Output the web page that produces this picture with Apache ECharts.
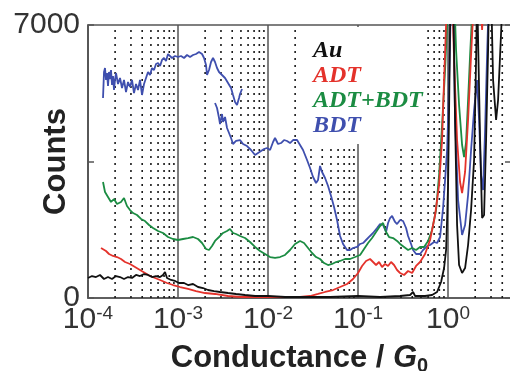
<!DOCTYPE html>
<html><head><meta charset="utf-8">
<script src="https://cdn.jsdelivr.net/npm/echarts/dist/echarts.min.js"></script>
<style>html,body{margin:0;padding:0;background:#fff}#c{width:510px;height:371px}</style>
</head><body><div id="c"></div>
<script>
// ---- data (conductance in G0, counts) ----
const auG = [1.00e-4,1.108e-4,1.227e-4,1.359e-4,1.506e-4,1.668e-4,1.848e-4,2.047e-4,2.268e-4,2.512e-4,2.783e-4,3.082e-4,3.415e-4,3.783e-4,4.190e-4,4.642e-4,5.142e-4,5.696e-4,6.310e-4,6.813e-4,7.171e-4,7.547e-4,8.360e-4,9.261e-4,1.026e-3,1.166e-3,1.292e-3,1.468e-3,1.668e-3,1.896e-3,2.154e-3,2.512e-3,2.929e-3,3.594e-3,4.410e-3,5.552e-3,7.171e-3,1.00e-2,1.545e-2,2.577e-2,4.885e-2,0.100,0.1756,0.2929,0.3783,0.4084,0.4299,0.5552,0.6641,0.7547,0.8360,0.9027,0.9501,0.9747,1.00,1.026,1.053,1.080,1.137,1.196,1.259,1.325,1.431,1.545,1.668,1.801,1.945,2.047,2.100,2.210,2.268,2.387,2.512,2.644,2.783,2.855,3.005,3.162,3.415,3.594,3.783,3.981,4.084,5.0];
const auCounts = [513,564,538,590,487,538,487,564,538,487,538,513,590,564,615,590,538,564,538,590,667,513,462,436,385,385,333,359,282,256,205,179,154,128,103,77,51,51,26,26,26,51,26,51,77,154,51,51,77,154,410,769,1231,2000,2897,4821,7000,7900,7900,4564,1872,846,641,769,1359,2256,3538,6103,7900,7900,4051,2051,2128,4051,6359,7900,7900,5590,4564,5077,6231,7385,7900,7900];

const adtG = [1.395e-4,1.468e-4,1.585e-4,1.711e-4,1.896e-4,2.100e-4,2.326e-4,2.577e-4,2.929e-4,3.328e-4,3.783e-4,4.299e-4,4.885e-4,5.552e-4,6.310e-4,7.547e-4,8.799e-4,1.053e-3,1.292e-3,1.585e-3,1.995e-3,2.577e-3,3.594e-3,5.012e-3,8.149e-3,1.359e-2,2.268e-2,2.929e-2,3.594e-2,4.299e-2,5.275e-2,6.310e-2,7.547e-2,8.799e-2,0.100,0.1108,0.1227,0.1359,0.1468,0.1585,0.1711,0.1848,0.1995,0.2154,0.2326,0.2512,0.2712,0.2929,0.3244,0.3594,0.3981,0.4410,0.4885,0.5552,0.6310,0.7171,0.7943,0.8577,0.9027,0.9501,0.9747,1.108,1.166,1.259,1.359,1.431,1.545,1.668,1.801,1.896,1.945,2.268,2.387,2.512,5.0];
const adtCounts = [1282,1231,1205,1128,1077,1051,1000,923,872,795,718,641,564,513,462,385,333,282,231,179,128,103,51,26,26,26,26,51,103,154,205,282,359,487,641,821,949,1000,923,846,923,795,872,821,923,846,718,641,590,692,641,821,923,1128,1487,2128,2897,4051,5590,7000,7900,7900,6103,4051,2974,2692,3231,4564,6231,7256,7900,7900,6872,7900,7900];

const mixG = [1.468e-4,1.545e-4,1.668e-4,1.801e-4,1.945e-4,2.100e-4,2.326e-4,2.512e-4,2.712e-4,2.929e-4,3.162e-4,3.503e-4,3.881e-4,4.299e-4,4.762e-4,5.275e-4,5.995e-4,6.813e-4,7.743e-4,8.799e-4,1.000e-3,1.137e-3,1.292e-3,1.468e-3,1.668e-3,1.848e-3,2.047e-3,2.210e-3,2.387e-3,2.577e-3,2.855e-3,3.162e-3,3.503e-3,3.783e-3,4.084e-3,4.410e-3,4.885e-3,5.552e-3,6.310e-3,7.171e-3,8.149e-3,9.261e-3,1.053e-2,1.196e-2,1.359e-2,1.545e-2,1.756e-2,1.995e-2,2.268e-2,2.512e-2,2.783e-2,3.082e-2,3.415e-2,3.783e-2,4.190e-2,4.642e-2,5.142e-2,5.696e-2,6.310e-2,7.171e-2,8.149e-2,9.261e-2,0.1053,0.1166,0.1292,0.1431,0.1585,0.1756,0.1896,0.2047,0.2210,0.2448,0.2712,0.2929,0.3244,0.3594,0.3981,0.4410,0.4885,0.5412,0.5995,0.6641,0.7356,0.7943,0.8577,0.9261,0.9747,1.000,1.166,1.227,1.325,1.431,1.506,1.585,1.668,1.756,1.848,1.896,5.0];
const mixCounts = [2974,2718,2590,2462,2538,2410,2462,2564,2359,2256,2179,2128,2026,1974,1872,1795,1718,1667,1564,1513,1487,1513,1538,1564,1513,1410,1256,1231,1333,1462,1564,1667,1718,1769,1667,1641,1590,1538,1436,1308,1205,1128,1051,1026,1051,1103,1231,1385,1462,1410,1282,1154,1051,1000,897,846,872,923,949,1000,1000,1051,1103,1256,1410,1538,1692,1846,1923,1692,1564,1538,1462,1385,1308,1231,1282,1231,1308,1308,1462,1744,2256,3154,4436,5846,7000,7900,7900,6359,4949,3923,3615,4000,5077,6231,7256,7900,7900];

const bdtG1 = [1.468e-4,1.506e-4,1.545e-4,1.585e-4,1.626e-4,1.668e-4,1.711e-4,1.756e-4,1.801e-4,1.848e-4,1.896e-4,1.945e-4,1.995e-4,2.047e-4,2.154e-4,2.268e-4,2.387e-4,2.512e-4,2.644e-4,2.783e-4,2.929e-4,3.082e-4,3.244e-4,3.415e-4,3.594e-4,3.783e-4,3.981e-4,4.190e-4,4.410e-4,4.642e-4,4.885e-4,5.142e-4,5.412e-4,5.696e-4,5.995e-4,6.310e-4,6.641e-4,6.990e-4,7.356e-4,7.743e-4,8.149e-4,8.577e-4,9.261e-4,1.000e-3,1.080e-3,1.166e-3,1.259e-3,1.359e-3,1.468e-3,1.585e-3,1.711e-3,1.848e-3,1.945e-3,2.047e-3,2.100e-3,2.210e-3,2.326e-3,2.448e-3,2.577e-3,2.712e-3,2.855e-3,3.082e-3,3.328e-3,3.594e-3,3.881e-3,4.084e-3,4.299e-3,4.524e-3,4.762e-3,4.885e-3,5.142e-3];
const bdtCounts1 = [5128,5795,5897,5590,5769,5436,5795,5615,5846,5462,5692,5333,5590,5769,5487,5641,5385,5590,5282,5538,5410,5590,5256,5487,5333,5590,5205,5487,5641,5795,5718,5897,5846,6000,6026,5949,6103,6154,6077,6256,6205,6154,6205,6179,6205,6154,6231,6179,6231,6256,6308,6256,6154,5974,5718,5846,6051,6154,6051,5897,5795,5718,5641,5513,5385,5205,5026,4949,5128,5231,5359];

const bdtG2 = [2.577e-3,2.712e-3,2.855e-3,2.929e-3,3.082e-3,3.162e-3,3.328e-3,3.503e-3,3.687e-3,3.881e-3,4.084e-3,4.410e-3,4.885e-3,5.275e-3,5.843e-3,6.473e-3,7.171e-3,7.743e-3,8.360e-3,9.027e-3,9.747e-3,1.053e-2,1.137e-2,1.196e-2,1.292e-2,1.395e-2,1.506e-2,1.626e-2,1.756e-2,1.896e-2,2.100e-2,2.268e-2,2.448e-2,2.712e-2,2.929e-2,3.162e-2,3.415e-2,3.594e-2,3.783e-2,3.981e-2,4.299e-2,4.642e-2,5.012e-2,5.412e-2,5.843e-2,6.310e-2,6.813e-2,7.547e-2,8.149e-2,8.799e-2,9.747e-2,0.1053,0.1137,0.1227,0.1359,0.1468,0.1626,0.1756,0.1896,0.2047,0.2154,0.2268,0.2387,0.2577,0.2712,0.2929,0.3162,0.3415,0.3594,0.3881,0.4084,0.4410,0.4885,0.5275,0.5843,0.6310,0.6990,0.7547,0.8149,0.8799,0.9261,0.9747,1.000,1.026,1.053,1.080,1.137,1.196,1.292,1.431,1.545,1.668,1.801,1.945,2.100,2.210,2.326,2.448,2.577,2.712,2.855,5.0];
const bdtCounts2 = [5000,4872,4615,4462,4718,4513,4641,4359,4231,4103,3949,4026,4051,3949,3897,3795,3667,3718,3769,3820,3846,3795,4000,4103,3949,3974,4051,4026,3974,4051,4051,3923,3795,3538,3333,3103,2949,3026,3385,3231,3077,2872,2615,2333,2000,1590,1385,1231,1231,1282,1308,1385,1410,1487,1590,1667,1795,1897,1872,1692,1923,2051,2103,1949,1897,2000,1974,1795,1590,1385,1231,1128,1128,1231,1333,1359,1436,1410,1564,2308,3026,3795,4564,5590,6615,7900,7900,4564,2513,1615,1872,2641,3795,4821,5590,4564,3154,2769,4308,6231,7900,7900];

// axis structure
const xMin = 1e-4, xMax = 5;
const yTicks = [0, 3500, 7000];
const yLabelShown = [0, 7000];
const decades = [1e-4, 1e-3, 1e-2, 1e-1, 1];
const multipliers = [2, 3, 4, 5, 6, 7, 8, 9];
const legendNames = ['Au', 'ADT', 'ADT+BDT', 'BDT'];
const colors = {Au: '#111111', ADT: '#e4322b', 'ADT+BDT': '#1b8c42', BDT: '#3f4fae'};

// dotted minor grid lines at 2..9 x 10^k, drawn as vertical segments through the axes
const minorData = [];
decades.forEach(d => multipliers.forEach(m => {
  const v = m * d;
  if (v < xMax * 0.999) { minorData.push([v, yTicks[0]], [v, yTicks[2]], [v, '-']); }
}));

const pair = (g, c) => g.map((v, i) => [v, c[i]]);
const FONT = 'Liberation Sans, Arial, sans-serif';

function lineSeries(name, g, c, z) {
  return {
    name: name, type: 'line', data: pair(g, c), showSymbol: false, symbol: 'none',
    clip: true, z: z, silent: true,
    lineStyle: {color: colors[name], width: 1.8},
    itemStyle: {color: colors[name]},
    emphasis: {disabled: true}
  };
}

const chart = echarts.init(document.getElementById('c'), null, {renderer: 'canvas'});
chart.setOption({
  animation: false,
  backgroundColor: '#fff',
  grid: {left: 88, top: 25, right: -1, bottom: 73, show: true, borderColor: '#555', borderWidth: 1.5,
         containLabel: false, outerBoundsMode: 'none'},
  legend: {
    orient: 'vertical', left: 305, top: 27, padding: [12, 4, 6, 3],
    itemWidth: 0, itemHeight: 0, itemGap: 1, icon: 'rect',
    backgroundColor: '#fff', selectedMode: false, z: 10,
    textStyle: {fontFamily: 'Liberation Serif, Times New Roman, serif', fontStyle: 'italic', fontWeight: 'bold', fontSize: 24, lineHeight: 23},
    data: legendNames.map(n => ({name: n, textStyle: {color: colors[n]}}))
  },
  xAxis: {
    type: 'log', logBase: 10, min: xMin, max: xMax,
    axisLine: {show: true, lineStyle: {color: '#555', width: 1.5}},
    axisTick: {show: false},
    splitLine: {show: true, lineStyle: {color: '#555', width: 1.5}},
    axisLabel: {
      margin: 6,
      formatter: function (v) {
        const l = Math.log10(v), e = Math.round(l);
        if (Math.abs(l - e) > 1e-6) return '';
        return '{b|10}{s|' + e + '}';
      },
      rich: {
        b: {fontSize: 30, color: '#333', fontFamily: FONT, lineHeight: 32},
        s: {fontSize: 19, color: '#333', fontFamily: FONT, lineHeight: 19, verticalAlign: 'top'}
      }
    },
    name: '{t|Conductance / }{g|G}{s|0}', nameLocation: 'middle', nameGap: 42, nameMoveOverlap: false,
    nameTextStyle: {
      rich: {
        t: {fontSize: 31, fontWeight: 'bold', color: '#222', fontFamily: FONT, lineHeight: 36},
        g: {fontSize: 31, fontWeight: 'bold', fontStyle: 'italic', color: '#222', fontFamily: FONT, lineHeight: 36},
        s: {fontSize: 20, fontWeight: 'bold', color: '#222', fontFamily: FONT, lineHeight: 20, verticalAlign: 'bottom'}
      }
    }
  },
  yAxis: [{
    type: 'value', min: yTicks[0], max: yTicks[2], interval: yTicks[1] - yTicks[0], position: 'left',
    axisLine: {show: true, lineStyle: {color: '#555', width: 1.5}},
    axisTick: {show: true, inside: true, length: 6, lineStyle: {color: '#555', width: 1.5}},
    splitLine: {show: false},
    axisLabel: {margin: 8, fontSize: 30, color: '#333', fontFamily: FONT,
      formatter: v => (yLabelShown.indexOf(v) >= 0 ? String(v) : '')},
    name: 'Counts', nameLocation: 'middle', nameGap: 16, nameMoveOverlap: false,
    nameTextStyle: {fontSize: 31, fontWeight: 'bold', color: '#222', fontFamily: FONT}
  }, {
    type: 'value', min: yTicks[0], max: yTicks[2], interval: yTicks[1] - yTicks[0], position: 'right',
    axisLine: {show: false},
    axisTick: {show: true, inside: true, length: 6, lineStyle: {color: '#555', width: 1.5}},
    splitLine: {show: false}, axisLabel: {show: false}
  }],
  series: [
    {
      name: 'minor-grid', type: 'line', data: minorData, z: 1, silent: true,
      showSymbol: false, symbol: 'none', connectNulls: false, clip: true,
      lineStyle: {type: [2, 5], color: '#1a1a1a', width: 1.6},
      emphasis: {disabled: true}
    },
    lineSeries('BDT', bdtG1, bdtCounts1, 2),
    lineSeries('BDT', bdtG2, bdtCounts2, 2),
    lineSeries('ADT+BDT', mixG, mixCounts, 3),
    lineSeries('ADT', adtG, adtCounts, 4),
    lineSeries('Au', auG, auCounts, 5)
  ]
});
</script>
</body></html>
